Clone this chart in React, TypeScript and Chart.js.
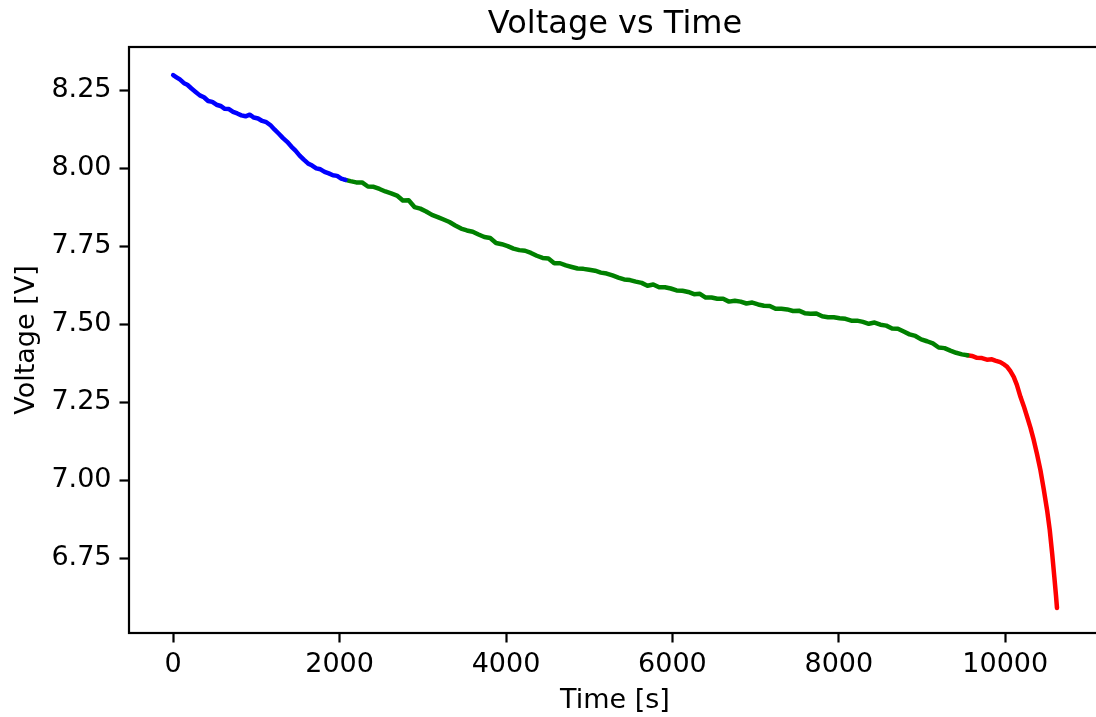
import React, { useEffect, useRef } from "react";
import { Chart, registerables } from "chart.js";

Chart.register(...registerables);

const TITLE = "Voltage vs Time";
const X_LABEL = "Time [s]";
const Y_LABEL = "Voltage [V]";
const X_TICKS = [0, 2000, 4000, 6000, 8000, 10000];
const Y_TICKS = [6.75, 7.0, 7.25, 7.5, 7.75, 8.0, 8.25];
const X_MIN = -531;
const X_MAX = 11151;
const Y_MIN = 6.51;
const Y_MAX = 8.388;

const BLUE_T = [0, 40, 80, 130, 170, 220, 270, 320, 370, 420, 470, 520, 570, 620, 670, 720, 770, 820, 870, 920, 970, 1020, 1070, 1120, 1170, 1220, 1270, 1320, 1370, 1420, 1470, 1520, 1570, 1620, 1670, 1720, 1770, 1820, 1870, 1920, 1970, 2020, 2070];
const BLUE_V = [8.298, 8.291, 8.284, 8.272, 8.267, 8.255, 8.244, 8.233, 8.227, 8.215, 8.212, 8.203, 8.199, 8.19, 8.189, 8.18, 8.175, 8.169, 8.166, 8.171, 8.162, 8.159, 8.151, 8.147, 8.137, 8.123, 8.11, 8.096, 8.084, 8.069, 8.056, 8.04, 8.027, 8.015, 8.008, 7.999, 7.996, 7.988, 7.983, 7.977, 7.975, 7.966, 7.962];

const GREEN_T = [2070, 2130, 2200, 2270, 2340, 2410, 2480, 2550, 2620, 2690, 2760, 2830, 2900, 2970, 3040, 3110, 3180, 3250, 3320, 3390, 3460, 3530, 3600, 3670, 3740, 3810, 3880, 3950, 4020, 4090, 4160, 4230, 4300, 4370, 4440, 4510, 4580, 4650, 4720, 4790, 4860, 4930, 5000, 5070, 5140, 5210, 5280, 5350, 5420, 5490, 5560, 5630, 5700, 5770, 5840, 5910, 5980, 6050, 6120, 6190, 6260, 6330, 6400, 6470, 6540, 6610, 6680, 6750, 6820, 6890, 6960, 7030, 7100, 7170, 7240, 7310, 7380, 7450, 7520, 7590, 7660, 7730, 7800, 7870, 7940, 8010, 8080, 8150, 8220, 8290, 8360, 8430, 8500, 8570, 8640, 8710, 8780, 8850, 8920, 8990, 9060, 9130, 9200, 9270, 9340, 9410, 9480, 9545];
const GREEN_V = [7.962, 7.958, 7.954, 7.954, 7.941, 7.94, 7.933, 7.925, 7.919, 7.912, 7.896, 7.897, 7.875, 7.87, 7.861, 7.85, 7.843, 7.835, 7.827, 7.816, 7.806, 7.8, 7.796, 7.787, 7.779, 7.776, 7.76, 7.756, 7.75, 7.742, 7.737, 7.735, 7.728, 7.719, 7.712, 7.71, 7.695, 7.695, 7.688, 7.683, 7.678, 7.677, 7.674, 7.671, 7.665, 7.662, 7.656, 7.649, 7.643, 7.641, 7.636, 7.632, 7.623, 7.627, 7.618, 7.618, 7.614, 7.608, 7.607, 7.603, 7.596, 7.597, 7.585, 7.585, 7.581, 7.581, 7.572, 7.575, 7.572, 7.566, 7.569, 7.563, 7.559, 7.558, 7.549, 7.549, 7.547, 7.542, 7.543, 7.535, 7.533, 7.534, 7.525, 7.522, 7.522, 7.519, 7.517, 7.511, 7.511, 7.507, 7.501, 7.505, 7.498, 7.495, 7.486, 7.485, 7.476, 7.467, 7.462, 7.451, 7.445, 7.438, 7.425, 7.423, 7.415, 7.408, 7.403, 7.4];

const RED_T = [9545, 9600, 9660, 9720, 9780, 9840, 9880, 9940, 9990, 10023, 10060, 10102, 10140, 10183, 10223, 10263, 10303, 10343, 10383, 10423, 10463, 10503, 10535, 10564, 10590, 10610, 10622];
const RED_V = [7.4, 7.398, 7.392, 7.391, 7.386, 7.387, 7.383, 7.378, 7.37, 7.363, 7.35, 7.331, 7.305, 7.267, 7.237, 7.203, 7.168, 7.128, 7.082, 7.032, 6.97, 6.904, 6.84, 6.765, 6.69, 6.63, 6.59];

const FONT = "'DejaVu Sans', sans-serif";

const toPoints = (ts: number[], vs: number[]) => ts.map((t, i) => ({ x: t, y: vs[i] }));

const framePlugin = {
  id: "frame",
  afterDraw(chart: any) {
    const { ctx, chartArea } = chart;
    const { left, top, right, bottom } = chartArea;
    ctx.save();
    ctx.strokeStyle = "#000";
    ctx.lineWidth = 2.2;
    ctx.strokeRect(left, top, right - left, bottom - top);
    ctx.restore();
  },
};

export default function App() {
  const ref = useRef<HTMLCanvasElement | null>(null);

  useEffect(() => {
    if (!ref.current) return;
    const lineDs = (label: string, ts: number[], vs: number[], color: string) => ({
      label,
      data: toPoints(ts, vs),
      borderColor: color,
      backgroundColor: color,
      borderWidth: 4.5,
      pointRadius: 0,
      tension: 0,
      fill: false,
      borderJoinStyle: "round" as const,
      borderCapStyle: "round" as const,
    });
    const chart = new Chart(ref.current, {
      type: "line",
      data: {
        datasets: [
          lineDs("blue", BLUE_T, BLUE_V, "#0000ff"),
          lineDs("green", GREEN_T, GREEN_V, "#008000"),
          lineDs("red", RED_T, RED_V, "#ff0000"),
        ],
      },
      options: {
        animation: false,
        responsive: false,
        devicePixelRatio: 1,
        layout: { padding: { left: 0, right: 9, top: 0, bottom: 0 } },
        plugins: {
          legend: { display: false },
          tooltip: { enabled: false },
          title: {
            display: true,
            fullSize: false,
            text: TITLE,
            color: "#000",
            font: { family: FONT, size: 32, weight: "normal", lineHeight: 1.2 },
            padding: { top: 5, bottom: 3.6 },
          },
        },
        scales: {
          x: {
            type: "linear",
            min: X_MIN,
            max: X_MAX,
            afterFit: (s: any) => {
              s.height = 84;
            },
            afterBuildTicks: (axis: any) => {
              axis.ticks = X_TICKS.map((value) => ({ value }));
            },
            border: { display: false },
            grid: {
              drawOnChartArea: false,
              drawTicks: true,
              tickLength: 9.5,
              tickWidth: 2.2,
              tickColor: "#000",
              color: "#000",
            },
            ticks: {
              color: "#000",
              padding: 6,
              maxRotation: 0,
              autoSkip: false,
              font: { family: FONT, size: 27, lineHeight: 1.2 },
              callback: (v: any) => String(v),
            },
            title: {
              display: true,
              text: X_LABEL,
              color: "#000",
              font: { family: FONT, size: 27, lineHeight: 1.0 },
              padding: { top: 0, bottom: 3 },
            },
          },
          y: {
            type: "linear",
            min: Y_MIN,
            max: Y_MAX,
            afterFit: (s: any) => {
              s.width = 129;
            },
            afterBuildTicks: (axis: any) => {
              axis.ticks = Y_TICKS.map((value) => ({ value }));
            },
            border: { display: false },
            grid: {
              drawOnChartArea: false,
              drawTicks: true,
              tickLength: 9.5,
              tickWidth: 2.2,
              tickColor: "#000",
              color: "#000",
            },
            ticks: {
              color: "#000",
              padding: 8,
              autoSkip: false,
              font: { family: FONT, size: 27, lineHeight: 1.2 },
              callback: (v: any) => Number(v).toFixed(2),
            },
            title: {
              display: true,
              text: Y_LABEL,
              color: "#000",
              font: { family: FONT, size: 27, lineHeight: 1.2 },
              padding: { top: 11, bottom: 0 },
            },
          },
        },
      },
      plugins: [framePlugin],
    });
    return () => chart.destroy();
  }, []);

  return (
    <div
      style={{
        position: "fixed",
        left: 0,
        top: 0,
        width: 1096,
        height: 717,
        overflow: "hidden",
        background: "#fff",
      }}
    >
      <canvas ref={ref} width={1110} height={717} style={{ display: "block" }} />
    </div>
  );
}
